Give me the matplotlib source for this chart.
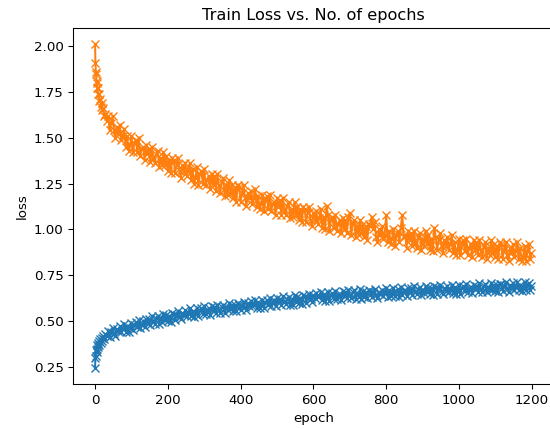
import matplotlib
matplotlib.use("Agg")
import matplotlib.pyplot as plt

# x positions (epochs) of the plotted samples
epochs = [0, 1, 2, 3, 4, 5, 6, 7, 8, 10, 12, 14, 16, 18, 20, 22, 25, 28, 32] \
    + list(range(36, 1197, 4)) + [1199]

# blue series (C0)
loss_a = [
    0.245, 0.30, 0.31, 0.34, 0.33, 0.37, 0.35, 0.38, 0.36, 0.39, 0.37, 0.40, 0.38, 0.41, 0.39, 0.42, 0.40, 0.43, 0.42,
    .445, .413, .440, .463, .431, .419, .456, .444, .472, .439, .457, .485, .442, .475, .443,
    .460, .492, .449, .481, .493, .465, .507, .464, .486, .498, .465, .512, .489, .511, .478,
    .525, .497, .483, .515, .527, .484, .515, .497, .539, .505, .532, .499, .530, .497, .543,
    .540, .507, .533, .555, .522, .509, .545, .532, .559, .525, .542, .569, .525, .557, .523,
    .540, .571, .527, .558, .569, .540, .581, .537, .558, .569, .535, .581, .557, .578, .544,
    .590, .561, .546, .578, .589, .545, .576, .561, .598, .564, .590, .556, .587, .553, .599,
    .595, .561, .582, .603, .574, .560, .596, .582, .608, .584, .590, .616, .572, .603, .569,
    .585, .616, .572, .603, .614, .585, .626, .582, .603, .614, .580, .626, .602, .623, .589,
    .635, .606, .591, .622, .633, .589, .619, .585, .641, .606, .632, .598, .628, .594, .640,
    .635, .601, .627, .648, .619, .605, .641, .627, .653, .629, .635, .661, .617, .648, .609,
    .625, .656, .611, .642, .652, .623, .664, .619, .640, .650, .616, .662, .637, .658, .624,
    .670, .641, .626, .657, .667, .622, .653, .633, .673, .620, .664, .629, .660, .625, .670,
    .665, .631, .656, .676, .641, .626, .661, .646, .672, .637, .652, .678, .633, .668, .634,
    .650, .680, .635, .666, .676, .630, .687, .642, .662, .672, .637, .683, .658, .678, .644,
    .690, .660, .645, .676, .686, .641, .672, .652, .692, .657, .683, .648, .679, .644, .689,
    .685, .650, .676, .696, .661, .646, .681, .666, .692, .657, .672, .698, .653, .684, .649,
    .665, .695, .650, .681, .691, .662, .702, .657, .677, .687, .653, .698, .674, .693, .659,
    .705, .675, .660, .691, .701, .656, .687, .667, .707, .672, .698, .663, .694, .659, .704,
    .700, .665, .691, .711, .676, .661, .696, .681, .707, .672, .687, .713, .668, .699, .664,
    .680, .712, .668, .699, .705, .672,
    .690,
]

# orange series (C1)
loss_b = [
    2.01, 1.91, 1.86, 1.85, 1.81, 1.80, 1.77, 1.77, 1.74, 1.74, 1.70, 1.71, 1.67, 1.69, 1.65, 1.66, 1.62, 1.63, 1.59,
    1.62, 1.54, 1.58, 1.62, 1.54, 1.50, 1.56, 1.52, 1.57, 1.49, 1.51, 1.55, 1.45, 1.51, 1.43,
    1.46, 1.51, 1.42, 1.47, 1.49, 1.42, 1.50, 1.40, 1.44, 1.45, 1.38, 1.46, 1.41, 1.44, 1.37,
    1.45, 1.39, 1.36, 1.41, 1.43, 1.34, 1.39, 1.35, 1.42, 1.35, 1.40, 1.32, 1.38, 1.31, 1.39,
    1.38, 1.31, 1.35, 1.39, 1.32, 1.28, 1.35, 1.32, 1.36, 1.29, 1.32, 1.36, 1.27, 1.33, 1.25,
    1.28, 1.34, 1.24, 1.30, 1.32, 1.25, 1.33, 1.24, 1.27, 1.29, 1.22, 1.30, 1.25, 1.29, 1.21,
    1.30, 1.24, 1.20, 1.26, 1.28, 1.18, 1.24, 1.19, 1.27, 1.20, 1.24, 1.17, 1.23, 1.15, 1.24,
    1.23, 1.15, 1.20, 1.24, 1.17, 1.13, 1.20, 1.17, 1.21, 1.14, 1.17, 1.22, 1.12, 1.18, 1.11,
    1.14, 1.19, 1.10, 1.16, 1.18, 1.11, 1.19, 1.10, 1.14, 1.15, 1.08, 1.17, 1.12, 1.16, 1.08,
    1.17, 1.11, 1.08, 1.13, 1.15, 1.06, 1.11, 1.07, 1.15, 1.08, 1.12, 1.05, 1.11, 1.04, 1.12,
    1.11, 1.04, 1.09, 1.12, 1.05, 1.02, 1.09, 1.05, 1.10, 1.03, 1.06, 1.11, 1.01, 1.07, 1.00,
    1.13, 1.08, 0.99, 1.05, 1.07, 1.01, 1.08, 0.99, 1.03, 1.05, 0.98, 1.06, 1.01, 1.05, 0.98,
    1.07, 1.09, 0.97, 1.03, 1.05, 0.96, 1.02, 0.97, 1.05, 0.98, 1.03, 0.96, 1.02, 0.94, 1.03,
    1.02, 1.07, 1.00, 1.04, 0.96, 0.93, 1.00, 0.97, 1.02, 0.95, 0.97, 1.08, 0.93, 0.99, 0.92,
    0.95, 1.00, 0.91, 0.97, 0.99, 0.93, 1.01, 1.08, 0.96, 0.97, 0.90, 0.99, 0.94, 0.98, 0.91,
    0.99, 0.93, 0.90, 0.96, 0.98, 0.89, 0.95, 0.91, 0.99, 0.92, 0.97, 0.89, 0.95, 0.88, 1.01,
    0.96, 0.89, 0.94, 0.98, 0.91, 0.87, 0.94, 0.91, 0.96, 0.89, 0.92, 0.97, 0.87, 0.93, 0.86,
    0.89, 0.95, 0.86, 0.92, 0.94, 0.88, 0.95, 0.86, 0.90, 0.92, 0.85, 0.94, 0.89, 0.93, 0.86,
    0.94, 0.88, 0.85, 0.91, 0.93, 0.84, 0.90, 0.86, 0.94, 0.87, 0.92, 0.85, 0.91, 0.84, 0.93,
    0.92, 0.84, 0.89, 0.93, 0.86, 0.83, 0.90, 0.87, 0.92, 0.85, 0.88, 0.93, 0.84, 0.90, 0.83,
    0.85, 0.91, 0.83, 0.88, 0.92, 0.84,
    0.87,
]

title = "Train Loss vs. No. of epochs"
xlabel = "epoch"
ylabel = "loss"

s = 0.965
fig = plt.figure(figsize=(5.5, 4.29), dpi=100)
ax = fig.add_axes([73.25 / 550, 45 / 429, 480 / 550, 356 / 429])
ax.plot(epochs, loss_a, '-x', color='C0', markersize=6 * s, linewidth=1.5 * s)
ax.plot(epochs, loss_b, '-x', color='C1', markersize=6 * s, linewidth=1.5 * s)
ax.set_title(title, fontsize=12 * s)
ax.set_xlabel(xlabel, fontsize=10 * s)
ax.set_ylabel(ylabel, fontsize=10 * s)
ax.tick_params(labelsize=10 * s, width=0.8 * s, length=3.5 * s)
for sp in ax.spines.values():
    sp.set_linewidth(0.8 * s)
ax.set_xticks([0, 200, 400, 600, 800, 1000, 1200])
ax.set_yticks([0.25, 0.50, 0.75, 1.00, 1.25, 1.50, 1.75, 2.00])
fig.savefig("out.png", dpi=100)
